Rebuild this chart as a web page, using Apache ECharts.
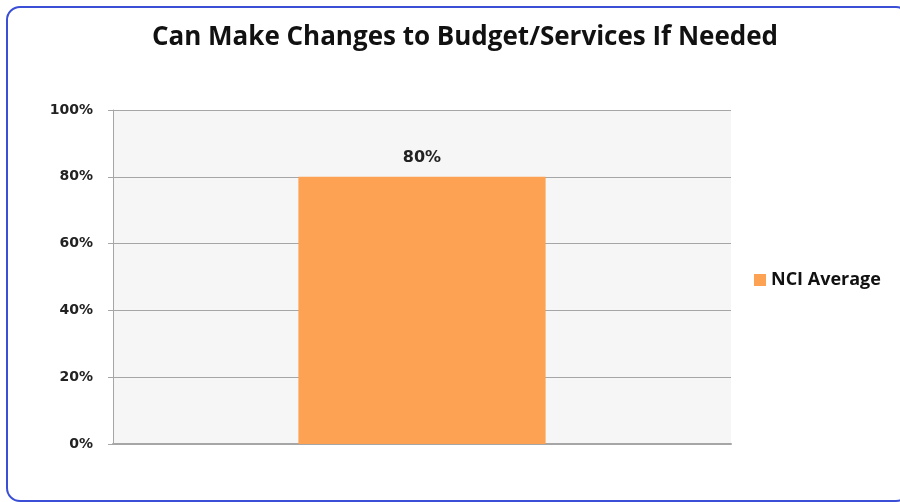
<!DOCTYPE html>
<html lang="en">
<style>
  body {
    margin: 0;
    background: #fff;
    overflow: hidden;
  }

  #frame {
    position: absolute;
    left: 6px;
    top: 6px;
    width: 900px;
    height: 492px;
    border: 2px solid #3a4fd6;
    border-radius: 14px;
  }

  #container {
    position: absolute;
    left: 0;
    top: 0;
    width: 900px;
    height: 502px;
  }
</style>

<head>
  <meta charset="UTF-8">
  <script src="https://cdn.jsdelivr.net/npm/echarts@6/dist/echarts.min.js"></script>
</head>

<body>
  <div id="frame"></div>
  <div id="container"></div>
  <script>
    var categories = ['NCI Average'];
    var seriesName = 'NCI Average';
    var values = [80];
    var yTicks = [0, 20, 40, 60, 80, 100];

    var myChart = echarts.init(document.getElementById('container'));

    var option = {
      title: {
        text: 'Can Make Changes to Budget/Services If Needed',
        left: 460,
        textAlign: 'center',
        top: 20,
        textStyle: {
          fontFamily: 'Open Sans',
          fontWeight: 'bold',
          fontSize: 26,
          color: '#111'
        }
      },
      legend: {
        data: [seriesName],
        left: 749,
        top: 266,
        orient: 'vertical',
        icon: 'rect',
        itemWidth: 12,
        itemHeight: 12,
        itemGap: 6,
        textStyle: {
          fontFamily: 'Open Sans',
          fontWeight: 'bold',
          fontSize: 18,
          color: '#111'
        }
      },
      grid: {
        show: true,
        left: 113,
        right: 169,
        top: 110,
        bottom: 58,
        backgroundColor: '#f6f6f6',
        borderWidth: 0
      },
      xAxis: {
        type: 'category',
        data: categories,
        axisLabel: { show: false },
        axisTick: { show: false },
        axisLine: { lineStyle: { color: '#a6a6a6', width: 2 } }
      },
      yAxis: {
        type: 'value',
        min: yTicks[0],
        max: yTicks[yTicks.length - 1],
        interval: 20,
        axisLine: { show: true, lineStyle: { color: '#a6a6a6', width: 1 } },
        axisTick: { show: true, length: 5, lineStyle: { color: '#a6a6a6' } },
        splitLine: { lineStyle: { color: '#a6a6a6', width: 1 } },
        axisLabel: {
          formatter: '{value}%',
          margin: 20,
          fontFamily: 'DejaVu Sans',
          fontWeight: 'bold',
          fontSize: 14,
          color: '#222'
        }
      },
      series: [
        {
          name: seriesName,
          type: 'bar',
          data: values,
          barWidth: '40%',
          itemStyle: { color: '#fda152' },
          label: {
            show: true,
            position: 'top',
            distance: 11,
            formatter: '{c}%',
            fontFamily: 'DejaVu Sans',
            fontWeight: 'bold',
            fontSize: 16,
            color: '#222'
          }
        }
      ]
    };
    myChart.setOption(option);
  </script>
</body>

</html>
